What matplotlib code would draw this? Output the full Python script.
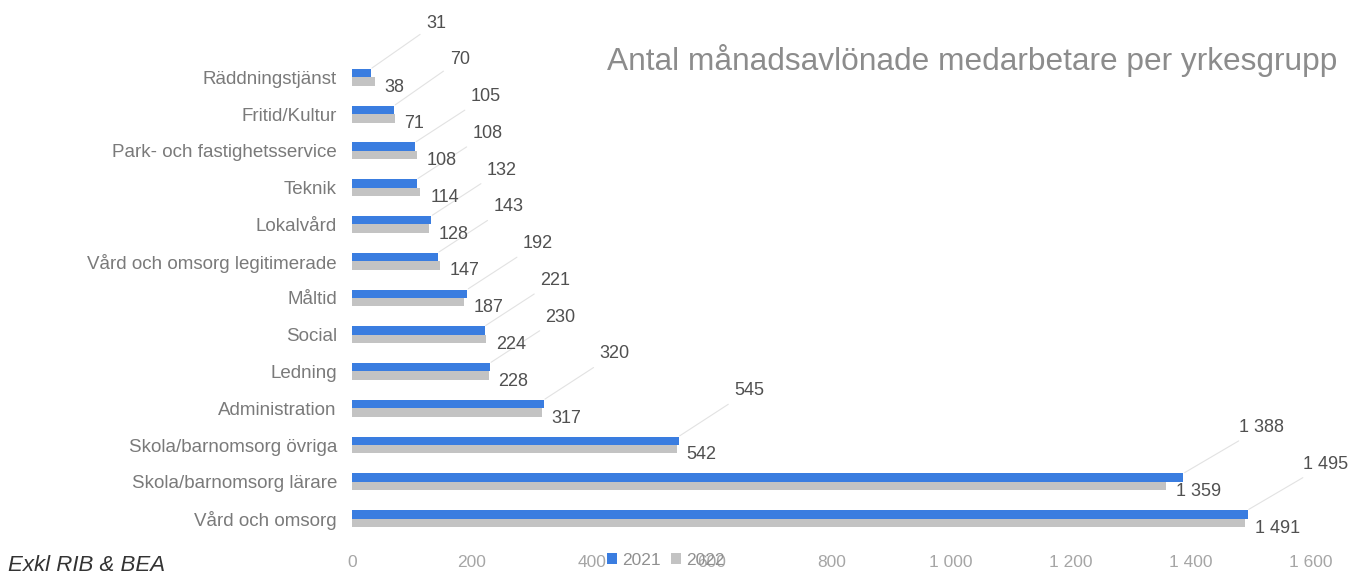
import matplotlib
matplotlib.use('Agg')
import matplotlib.pyplot as plt
import numpy as np

plt.rcParams['font.family'] = ['Liberation Sans', 'DejaVu Sans']

# categories from top to bottom
categories = ['Räddningstjänst', 'Fritid/Kultur', 'Park- och fastighetsservice', 'Teknik',
              'Lokalvård', 'Vård och omsorg legitimerade', 'Måltid', 'Social', 'Ledning',
              'Administration', 'Skola/barnomsorg övriga', 'Skola/barnomsorg lärare',
              'Vård och omsorg']
values_2021 = [31, 70, 105, 108, 132, 143, 192, 221, 230, 320, 545, 1388, 1495]
values_2022 = [38, 71, 108, 114, 128, 147, 187, 224, 228, 317, 542, 1359, 1491]
xticks = [0, 200, 400, 600, 800, 1000, 1200, 1400, 1600]

def fmt(v):
    # swedish style thousands separator (space)
    return f"{v:,}".replace(',', ' ')

blue = '#3a7de0'
grey = '#c3c3c3'

fig = plt.figure(figsize=(13.65, 5.78), dpi=100)
ax = fig.add_axes([0.258, 0.071, 0.702, 0.827])

y = np.arange(len(categories))
h = 0.23
ax.barh(y - h / 2, values_2021, height=h, color=blue, label='2021')
ax.barh(y + h / 2, values_2022, height=h, color=grey, label='2022')

ax.set_ylim(len(categories) - 0.5, -0.5)
ax.set_xlim(0, 1600)
ax.set_yticks(y)
ax.set_yticklabels(categories, fontsize=13.5, color='#7a7a7a')
ax.set_xticks(xticks)
ax.set_xticklabels([fmt(t) for t in xticks], fontsize=12.5, color='#a6a6a6')
ax.tick_params(length=0, axis='y', pad=11)
ax.tick_params(length=0, axis='x', pad=13)
for s in ax.spines.values():
    s.set_visible(False)

# labels for 2021 sit up and to the right with a thin leader line
for yi, v in zip(y, values_2021):
    ax.annotate(fmt(v), xy=(v, yi - h), xytext=(40, 33), textcoords='offset points',
                fontsize=13, color='#505050', va='center', ha='left',
                arrowprops=dict(arrowstyle='-', color='#e2e2e2', lw=0.8,
                                shrinkA=3, shrinkB=1))
# labels for 2022 right of the grey bar
for yi, v in zip(y, values_2022):
    ax.annotate(fmt(v), xy=(v, yi + h / 2), xytext=(7, -4), textcoords='offset points',
                fontsize=13, color='#505050', va='center', ha='left')

fig.text(0.445, 0.895, 'Antal månadsavlönade medarbetare per yrkesgrupp',
         fontsize=22.8, color='#8c8c8c', ha='left', va='center')
fig.text(0.006, 0.022, 'Exkl RIB & BEA', fontsize=16, style='italic',
         color='#333333', ha='left', va='center')

fig.legend(loc='center left', bbox_to_anchor=(0.445, 0.031), ncol=2, frameon=False,
           fontsize=12.5, handlelength=0.55, handleheight=0.55, handletextpad=0.3,
           columnspacing=0.6, labelcolor='#909090', borderpad=0, borderaxespad=0)

fig.savefig('out.png', dpi=100, facecolor='white')
